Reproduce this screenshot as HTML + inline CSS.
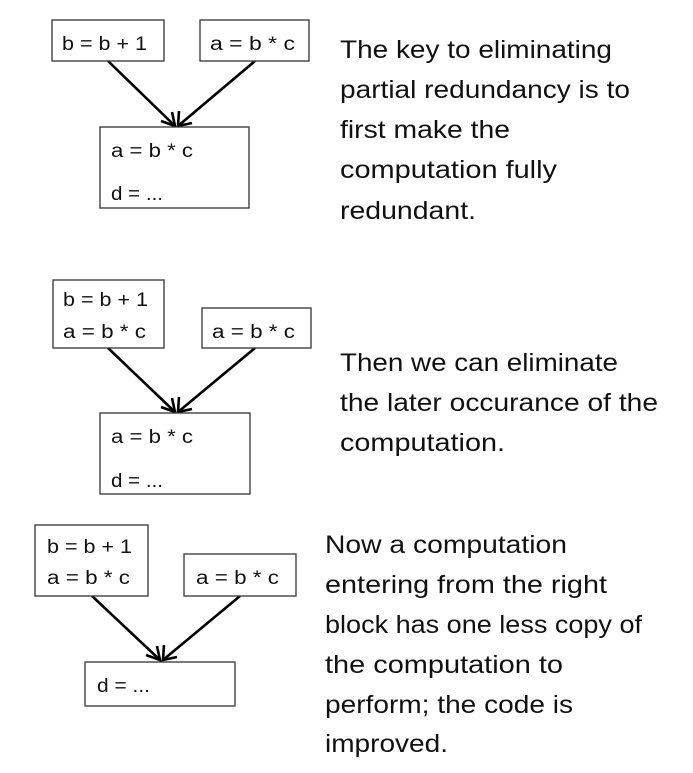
<!DOCTYPE html>
<html><head><meta charset="utf-8"><style>
html,body{margin:0;padding:0;background:#fff;}
svg{display:block;}
text{font-family:"Liberation Sans",sans-serif;fill:#111;}
.b{font-size:19px;}
.t{font-size:25px;}
rect{fill:#fff;stroke:#333;stroke-width:1.3;}
line,polyline{stroke:#000;stroke-width:2.6;fill:none;}
</style></head><body>
<svg width="693" height="773" viewBox="0 0 693 773">
<!-- Diagram 1 -->
<line x1="108" y1="61" x2="175" y2="126"/><polyline points="161,121 175,126 172,112"/>
<line x1="255" y1="61" x2="178" y2="126"/><polyline points="179,111 178,126 192,123"/>
<rect x="52" y="20" width="112" height="41"/>
<rect x="200" y="20" width="109" height="41"/>
<rect x="100" y="127" width="149" height="81"/>
<text class="b" x="62" y="50" textLength="85" lengthAdjust="spacingAndGlyphs">b = b + 1</text>
<text class="b" x="210" y="50" textLength="85" lengthAdjust="spacingAndGlyphs">a = b * c</text>
<text class="b" x="111" y="157" textLength="82" lengthAdjust="spacingAndGlyphs">a = b * c</text>
<text class="b" x="111" y="200" textLength="52" lengthAdjust="spacingAndGlyphs">d = ...</text>
<text class="t" x="340" y="58" textLength="272" lengthAdjust="spacingAndGlyphs">The key to eliminating</text>
<text class="t" x="340" y="98" textLength="290" lengthAdjust="spacingAndGlyphs">partial redundancy is to</text>
<text class="t" x="340" y="138" textLength="170" lengthAdjust="spacingAndGlyphs">first make the</text>
<text class="t" x="340" y="178" textLength="217" lengthAdjust="spacingAndGlyphs">computation fully</text>
<text class="t" x="340" y="219" textLength="136" lengthAdjust="spacingAndGlyphs">redundant.</text>
<!-- Diagram 2 -->
<line x1="108" y1="348" x2="175" y2="412"/><polyline points="161,407 175,412 172,398"/>
<line x1="255" y1="348" x2="178" y2="412"/><polyline points="179,397 178,412 192,409"/>
<rect x="53" y="280" width="111" height="68"/>
<rect x="202" y="308" width="109" height="40"/>
<rect x="100" y="413" width="150" height="81"/>
<text class="b" x="63" y="306" textLength="85" lengthAdjust="spacingAndGlyphs">b = b + 1</text>
<text class="b" x="63" y="338" textLength="83" lengthAdjust="spacingAndGlyphs">a = b * c</text>
<text class="b" x="212" y="338" textLength="83" lengthAdjust="spacingAndGlyphs">a = b * c</text>
<text class="b" x="111" y="443" textLength="82" lengthAdjust="spacingAndGlyphs">a = b * c</text>
<text class="b" x="111" y="487" textLength="52" lengthAdjust="spacingAndGlyphs">d = ...</text>
<text class="t" x="340" y="371" textLength="278" lengthAdjust="spacingAndGlyphs">Then we can eliminate</text>
<text class="t" x="340" y="411" textLength="318" lengthAdjust="spacingAndGlyphs">the later occurance of the</text>
<text class="t" x="340" y="451" textLength="165" lengthAdjust="spacingAndGlyphs">computation.</text>
<!-- Diagram 3 -->
<line x1="92" y1="596" x2="160" y2="660"/><polyline points="146,655 160,660 157,646"/>
<line x1="240" y1="596" x2="163" y2="660"/><polyline points="164,645 163,660 177,657"/>
<rect x="35" y="525" width="113" height="71"/>
<rect x="184" y="554" width="112" height="42"/>
<rect x="85" y="662" width="150" height="44"/>
<text class="b" x="47" y="553" textLength="85" lengthAdjust="spacingAndGlyphs">b = b + 1</text>
<text class="b" x="47" y="584" textLength="83" lengthAdjust="spacingAndGlyphs">a = b * c</text>
<text class="b" x="196" y="584" textLength="83" lengthAdjust="spacingAndGlyphs">a = b * c</text>
<text class="b" x="97" y="692" textLength="53" lengthAdjust="spacingAndGlyphs">d = ...</text>
<text class="t" x="325" y="553" textLength="242" lengthAdjust="spacingAndGlyphs">Now a computation</text>
<text class="t" x="325" y="593" textLength="282" lengthAdjust="spacingAndGlyphs">entering from the right</text>
<text class="t" x="325" y="633" textLength="317" lengthAdjust="spacingAndGlyphs">block has one less copy of</text>
<text class="t" x="325" y="673" textLength="238" lengthAdjust="spacingAndGlyphs">the computation to</text>
<text class="t" x="325" y="713" textLength="248" lengthAdjust="spacingAndGlyphs">perform; the code is</text>
<text class="t" x="325" y="752" textLength="123" lengthAdjust="spacingAndGlyphs">improved.</text>
</svg>
</body></html>
